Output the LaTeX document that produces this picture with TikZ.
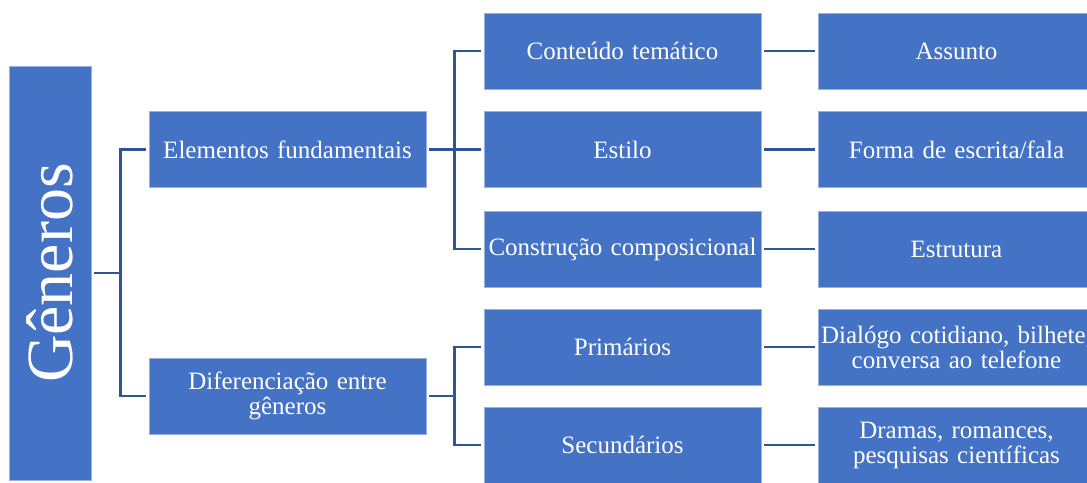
\documentclass[tikz,border=0pt]{standalone}
\usepackage{fontspec}
\setmainfont{Liberation Serif}
\usepackage{xcolor}
\usepackage{tikz}
\usetikzlibrary{positioning}
\definecolor{boxblue}{HTML}{4472C4}
\definecolor{lineblue}{HTML}{2F5597}
\tikzset{
    every node/.style={font=\fontsize{25}{25}\selectfont}
}

\begin{document}
\begin{tikzpicture}[x=1pt,y=-1pt]
            % Define styles for boxes and connectors
            \tikzstyle{genbox} = [rectangle, draw=boxblue!55!white, fill=boxblue,
                text=white, line width=0.6pt, inner xsep=2pt, text width=273pt,
                align=center, minimum height=76pt]
            \tikzstyle{rootbox} = [rectangle, draw=boxblue!55!white, fill=boxblue,
                text=white, line width=0.6pt, minimum width=82pt, minimum height=414pt,
                font=\fontsize{66}{66}\selectfont]
            \tikzstyle{link} = [draw=lineblue, line width=2.5pt,
                shorten <=2.5pt, shorten >=2.5pt]

            \useasboundingbox (0,0) rectangle (1087,482);
            \clip (0,0) rectangle (1087,482);

            % Draw root box
            \node[rootbox] (root) at (50,273) {\rotatebox{90}{Gêneros}};

            % Draw first level
            \node[genbox] (elem) at (287.5,149.5) {Elementos fundamentais};
            \node[genbox] (dif) at (287.5,396) {Diferenciação entre\\gêneros};

            % Draw second level
            \node[genbox] (cont) at (622.5,51) {Conteúdo temático};
            \node[genbox] (estilo) at (622.5,149.5) {Estilo};
            \node[genbox] (constr) at (622.5,249) {Construção composicional};
            \node[genbox] (prim) at (622.5,347) {Primários};
            \node[genbox] (sec) at (622.5,445) {Secundários};

            % Draw third level
            \node[genbox] (assunto) at (956.5,51) {Assunto};
            \node[genbox] (forma) at (956.5,149.5) {Forma de escrita/fala};
            \node[genbox] (estrut) at (956.5,249) {Estrutura};
            \node[genbox] (dialogo) at (956.5,347) {Dialógo cotidiano, bilhete,\\conversa ao telefone};
            \node[genbox] (dramas) at (956.5,445) {Dramas, romances,\\pesquisas científicas};

            % Draw connectors
            \draw[link] (root.east) -- ++(29,0) |- (elem.west);
            \draw[link] (root.east) -- ++(29,0) |- (dif.west);
            \draw[link] (elem.east) -- ++(28,0) |- (cont.west);
            \draw[link] (elem.east) -- ++(28,0) |- (estilo.west);
            \draw[link] (elem.east) -- ++(28,0) |- (constr.west);
            \draw[link] (dif.east) -- ++(28,0) |- (prim.west);
            \draw[link] (dif.east) -- ++(28,0) |- (sec.west);
            \draw[link] (cont) -- (assunto);
            \draw[link] (estilo) -- (forma);
            \draw[link] (constr) -- (estrut);
            \draw[link] (prim) -- (dialogo);
            \draw[link] (sec) -- (dramas);
        \end{tikzpicture}
\end{document}
